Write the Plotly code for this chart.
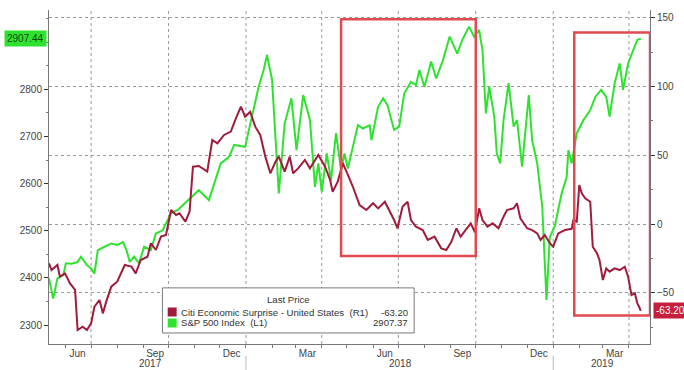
import plotly.graph_objects as go

# ---------------- data ----------------
spx_dates = [
    "2017-05-12", "2017-05-17", "2017-05-22", "2017-05-29", "2017-06-01", "2017-06-08",
    "2017-06-15", "2017-06-19", "2017-06-26", "2017-07-01", "2017-07-05", "2017-07-09",
    "2017-07-17", "2017-07-25", "2017-08-01", "2017-08-08", "2017-08-12", "2017-08-16",
    "2017-08-21", "2017-08-27", "2017-09-02", "2017-09-10", "2017-09-16", "2017-09-24",
    "2017-10-04", "2017-10-12", "2017-10-16", "2017-10-24", "2017-11-01", "2017-11-06",
    "2017-11-18", "2017-12-02", "2017-12-12", "2017-12-18", "2017-12-31", "2018-01-06",
    "2018-01-16", "2018-01-22", "2018-01-26", "2018-02-01", "2018-02-05", "2018-02-09",
    "2018-02-16", "2018-02-24", "2018-03-02", "2018-03-10", "2018-03-18", "2018-03-24",
    "2018-03-28", "2018-04-01", "2018-04-07", "2018-04-12", "2018-04-18", "2018-04-24",
    "2018-04-28", "2018-05-02", "2018-05-08", "2018-05-14", "2018-05-20", "2018-05-28",
    "2018-05-30", "2018-06-07", "2018-06-13", "2018-06-18", "2018-06-26", "2018-07-02",
    "2018-07-08", "2018-07-16", "2018-07-22", "2018-07-26", "2018-08-01", "2018-08-09",
    "2018-08-15", "2018-08-23", "2018-08-31", "2018-09-09", "2018-09-15", "2018-09-23",
    "2018-09-29", "2018-10-05", "2018-10-09", "2018-10-13", "2018-10-17", "2018-10-23",
    "2018-10-26", "2018-10-30", "2018-11-03", "2018-11-09", "2018-11-15", "2018-11-19",
    "2018-11-25", "2018-12-03", "2018-12-07", "2018-12-13", "2018-12-19", "2018-12-24",
    "2018-12-28", "2019-01-03", "2019-01-07", "2019-01-11", "2019-01-17", "2019-01-19",
    "2019-01-23", "2019-01-29", "2019-02-06", "2019-02-14", "2019-02-20", "2019-02-27",
    "2019-03-05", "2019-03-09", "2019-03-15", "2019-03-21", "2019-03-25", "2019-03-31",
    "2019-04-06", "2019-04-11", "2019-04-15",
]
spx_values = [
    2399, 2356, 2399, 2406, 2431, 2430,
    2434, 2445, 2427, 2420, 2409, 2459,
    2466, 2473, 2470, 2476, 2459, 2434,
    2445, 2431, 2466, 2459, 2494, 2501,
    2537, 2544, 2551, 2565, 2579, 2586,
    2565, 2643, 2657, 2682, 2678, 2728,
    2805, 2841, 2873, 2820, 2692, 2579,
    2728, 2781, 2671, 2788, 2735, 2593,
    2643, 2583, 2664, 2607, 2707, 2629,
    2664, 2632, 2678, 2724, 2717, 2724,
    2692, 2763, 2781, 2767, 2714, 2721,
    2791, 2816, 2809, 2841, 2805, 2859,
    2823, 2862, 2912, 2876, 2905, 2933,
    2912, 2926, 2883, 2749, 2806, 2742,
    2664, 2643, 2735, 2813, 2721, 2735,
    2636, 2788, 2692, 2643, 2551, 2353,
    2487, 2510, 2545, 2579, 2614, 2671,
    2643, 2707, 2735, 2756, 2784, 2799,
    2784, 2742, 2813, 2855, 2799, 2855,
    2883, 2905, 2907.37,
]

cesi_dates = [
    "2017-05-12", "2017-05-15", "2017-05-22", "2017-05-25", "2017-05-31", "2017-06-06",
    "2017-06-12", "2017-06-15", "2017-06-21", "2017-06-26", "2017-07-01", "2017-07-05",
    "2017-07-11", "2017-07-15", "2017-07-19", "2017-07-25", "2017-08-01", "2017-08-10",
    "2017-08-18", "2017-08-23", "2017-08-29", "2017-09-06", "2017-09-10", "2017-09-16",
    "2017-09-22", "2017-09-28", "2017-10-04", "2017-10-10", "2017-10-14", "2017-10-21",
    "2017-10-26", "2017-10-30", "2017-11-06", "2017-11-16", "2017-11-22", "2017-11-28",
    "2017-12-06", "2017-12-14", "2017-12-20", "2017-12-26", "2017-12-31", "2018-01-06",
    "2018-01-12", "2018-01-18", "2018-01-24", "2018-01-30", "2018-02-05", "2018-02-09",
    "2018-02-16", "2018-02-22", "2018-02-26", "2018-03-04", "2018-03-12", "2018-03-18",
    "2018-03-28", "2018-04-05", "2018-04-11", "2018-04-14", "2018-04-20", "2018-04-26",
    "2018-05-02", "2018-05-08", "2018-05-16", "2018-05-24", "2018-06-01", "2018-06-07",
    "2018-06-15", "2018-06-20", "2018-06-26", "2018-06-30", "2018-07-06", "2018-07-12",
    "2018-07-16", "2018-07-22", "2018-07-30", "2018-08-05", "2018-08-13", "2018-08-21",
    "2018-08-27", "2018-09-02", "2018-09-08", "2018-09-13", "2018-09-19", "2018-09-25",
    "2018-09-30", "2018-10-05", "2018-10-09", "2018-10-15", "2018-10-21", "2018-10-28",
    "2018-11-03", "2018-11-07", "2018-11-15", "2018-11-19", "2018-11-23", "2018-12-01",
    "2018-12-07", "2018-12-13", "2018-12-17", "2018-12-22", "2018-12-28", "2019-01-01",
    "2019-01-07", "2019-01-15", "2019-01-23", "2019-01-25", "2019-01-29", "2019-02-01",
    "2019-02-04", "2019-02-08", "2019-02-14", "2019-02-17", "2019-02-22", "2019-02-25",
    "2019-03-01", "2019-03-05", "2019-03-09", "2019-03-15", "2019-03-21", "2019-03-27",
    "2019-03-31", "2019-04-04", "2019-04-08", "2019-04-11", "2019-04-13", "2019-04-15",
]
cesi_values = [
    -28.6, -33.5, -29.8, -38.3, -35.9, -43.2,
    -48.0, -77.1, -74.7, -77.1, -72.3, -60.2,
    -55.3, -65.0, -56.5, -45.6, -42.0, -29.8,
    -31.0, -35.9, -26.2, -23.8, -14.0, -18.9,
    -9.2, -8.0, 10.2, 6.6, 7.8, 1.7,
    9.0, 41.7, 42.2, 38.1, 61.1, 58.7,
    64.8, 67.2, 76.9, 85.4, 78.1, 81.7,
    70.8, 64.8, 49.0, 36.9, 45.3, 49.0,
    38.1, 49.0, 36.9, 40.5, 46.6, 40.5,
    50.2, 41.7, 32.0, 23.5, 30.8, 44.2,
    36.0, 27.1, 13.8, 10.2, 15.1, 11.4,
    16.2, 10.2, 2.9, -3.1, 12.6, 16.2,
    2.9, -2.0, -4.4, -11.6, -9.2, -17.7,
    -18.9, -12.9, -3.1, -9.2, -4.4, 0.5,
    -6.0, 11.4, 2.9, -2.0, 0.5, -3.1,
    5.3, 10.2, 11.4, 15.1, 4.1, -3.1,
    -4.4, -6.8, -11.6, -8.0, -14.0, -16.5,
    -6.8, -4.4, -3.5, 2.9, 1.7, 28.4,
    22.3, 18.7, 16.2, -16.5, -21.3, -26.2,
    -40.8, -32.3, -34.7, -32.3, -33.5, -31.1,
    -38.4, -51.7, -50.4, -57.7, -60.2, -63.2,
]

left_ticks = [2300, 2400, 2500, 2600, 2700, 2800]
right_ticks = [-50, 0, 50, 100, 150]
month_tick_dates = ["2017-06-15", "2017-09-15", "2017-12-15", "2018-03-15",
                    "2018-06-15", "2018-09-15", "2018-12-15", "2019-03-15"]
month_tick_labels = ["Jun", "Sep", "Dec", "Mar", "Jun", "Sep", "Dec", "Mar"]
quarter_grid_dates = ["2017-07-01", "2017-10-01", "2018-01-01", "2018-04-01",
                      "2018-07-01", "2018-10-01", "2019-01-01", "2019-04-01"]
year_labels = ["2017", "2018", "2019"]
year_breaks = ["2018-01-01", "2019-01-01"]

spx_name = "S&amp;P 500 Index&nbsp;&nbsp;(L1)"
cesi_name = "Citi Economic Surprise - United States&nbsp;&nbsp;(R1)"
spx_tag_text = "2907.44"

# highlighted regions (date range, right-axis range)
box_x = [("2018-04-24", "2018-10-01"), ("2019-01-26", "2019-04-26")]
box_y = [(-23.3, 149.0), (-66.6, 139.4)]

# ---------------- style ----------------
GREEN = "#2fe22f"
RED = "#a01c3c"
BOX_RED = "#e04a50"
TXT = "#444444"
AX = "#777777"
FONT = "Liberation Sans Narrow, Arial Narrow, Liberation Sans, Arial, sans-serif"

fig = go.Figure()
fig.add_trace(go.Scatter(x=spx_dates, y=spx_values, mode="lines", yaxis="y",
                         line=dict(color=GREEN, width=2), name="S&P 500 Index"))
fig.add_trace(go.Scatter(x=cesi_dates, y=cesi_values, mode="lines", yaxis="y2",
                         line=dict(color=RED, width=2), name="Citi Economic Surprise"))

shapes = []
for d in quarter_grid_dates:
    shapes.append(dict(type="line", xref="x", yref="paper", x0=d, x1=d, y0=0, y1=1,
                       line=dict(color="#9a9a9a", width=1, dash="dot"), layer="below"))
for d in year_breaks:
    shapes.append(dict(type="line", xref="x", yref="paper", x0=d, x1=d, y0=-0.035, y1=-0.085,
                       line=dict(color="#bbbbbb", width=1)))
for (x0, x1), (y0, y1) in zip(box_x, box_y):
    shapes.append(dict(type="rect", xref="x", yref="y2", x0=x0, x1=x1, y0=y0, y1=y1,
                       line=dict(color=BOX_RED, width=2.5), fillcolor="rgba(0,0,0,0)"))

# legend box (paper coords)
lx0, lx1, ly0, ly1 = 0.1887, 0.6076, 0.033, 0.168
shapes.append(dict(type="rect", xref="paper", yref="paper", x0=lx0, x1=lx1, y0=ly0, y1=ly1,
                   line=dict(color="#7a7a7a", width=1), fillcolor="white", layer="above"))
sq_w = 9 / 604
sq_h = 9 / 334
for yc, col in [(0.0958, RED), (0.0629, GREEN)]:
    shapes.append(dict(type="rect", xref="paper", yref="paper",
                       x0=0.1975, x1=0.1975 + sq_w, y0=yc - sq_h / 2, y1=yc + sq_h / 2,
                       line=dict(width=0), fillcolor=col, layer="above"))

LEG_FONT = dict(family=FONT, size=9.6, color="#333")
annotations = []
annotations.append(dict(text="Last Price", xref="paper", yref="paper", x=(lx0 + lx1) / 2, y=0.1347,
                        showarrow=False, font=LEG_FONT, xanchor="center", yanchor="middle"))
for yc, name, val in [(0.0958, cesi_name, f"{cesi_values[-1]:.2f}"),
                      (0.0629, spx_name, f"{spx_values[-1]:.2f}")]:
    annotations.append(dict(text=name, xref="paper", yref="paper", x=0.2165, y=yc, showarrow=False,
                            font=LEG_FONT, xanchor="left", yanchor="middle"))
    annotations.append(dict(text=val, xref="paper", yref="paper", x=0.600, y=yc, showarrow=False,
                            font=LEG_FONT, xanchor="right", yanchor="middle"))

for txt, xp in zip(year_labels, [0.1689, 0.5844, 0.9205]):
    annotations.append(dict(text=txt, xref="paper", yref="paper", x=xp, y=-0.058, showarrow=False,
                            font=dict(family=FONT, size=10, color=TXT),
                            xanchor="center", yanchor="middle"))

annotations.append(dict(text=spx_tag_text, xref="paper", yref="y", x=0, xshift=-2,
                        y=float(spx_tag_text), showarrow=False, xanchor="right", yanchor="middle",
                        bgcolor=GREEN, borderpad=2,
                        font=dict(family=FONT, size=10, color="#124d12")))
annotations.append(dict(text=f"{cesi_values[-1]:.2f}", xref="paper", yref="y2", x=1, xshift=3,
                        y=cesi_values[-1], showarrow=False, xanchor="left", yanchor="middle",
                        bgcolor="#c61f3c", borderpad=2,
                        font=dict(family=FONT, size=10, color="white")))

fig.update_layout(
    width=684, height=370,
    margin=dict(l=49, r=31, t=10, b=26),
    paper_bgcolor="white", plot_bgcolor="white",
    showlegend=False,
    font=dict(family=FONT, size=10, color=TXT),
    xaxis=dict(type="date", range=["2017-05-12", "2019-04-26"],
               tickmode="array", tickvals=month_tick_dates, ticktext=month_tick_labels,
               ticks="", showgrid=False, zeroline=False,
               showline=True, linecolor=AX, linewidth=1,
               tickfont=dict(family=FONT, size=10, color=TXT),
               minor=dict(dtick="M1", tick0="2017-01-01", ticks="outside", ticklen=3,
                          tickcolor=AX, showgrid=False)),
    yaxis=dict(range=[2259.7, 2968.4], tickmode="array", tickvals=left_ticks,
               ticks="outside", ticklen=4, tickcolor="#333", showgrid=False, zeroline=False,
               showline=True, linecolor=AX, linewidth=1,
               tickfont=dict(family=FONT, size=10, color=TXT),
               minor=dict(dtick=50, tick0=2300, ticks="outside", ticklen=2, tickcolor=AX,
                          showgrid=False)),
    yaxis2=dict(overlaying="y", side="right", range=[-87.3, 155.7],
                tickmode="array", tickvals=right_ticks,
                ticks="outside", ticklen=4, tickcolor="#333",
                showgrid=True, gridcolor="#9a9a9a", gridwidth=1, griddash="dot",
                zeroline=False, showline=True, linecolor=AX, linewidth=1,
                tickfont=dict(family=FONT, size=10, color=TXT),
                minor=dict(dtick=25, tick0=0, ticks="outside", ticklen=2, tickcolor=AX,
                           showgrid=False)),
    shapes=shapes,
    annotations=annotations,
)

fig.write_html("out.html", config={"displayModeBar": False},
               post_script="document.body.style.margin='0';")
